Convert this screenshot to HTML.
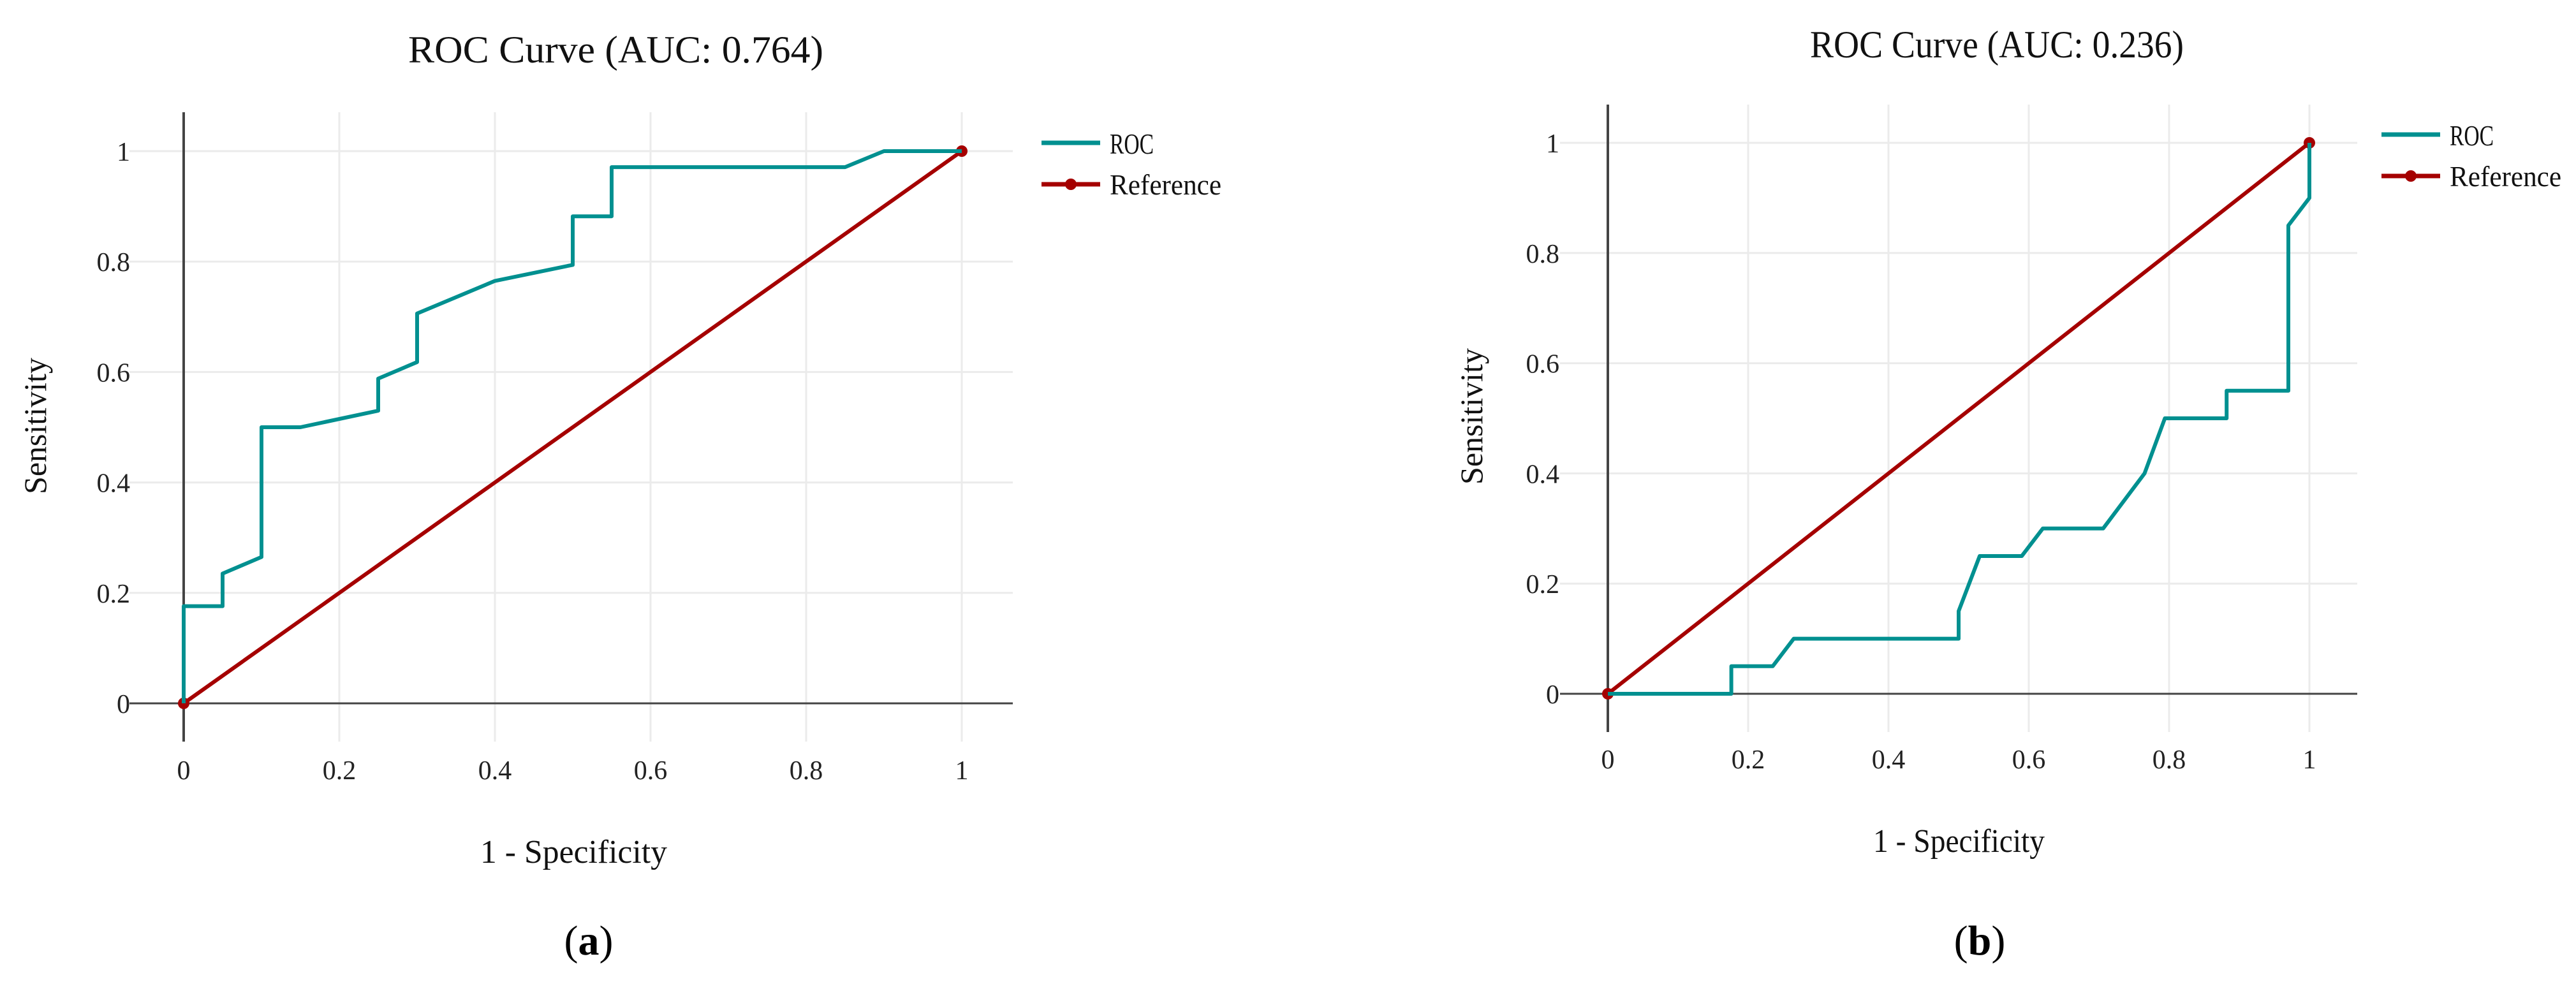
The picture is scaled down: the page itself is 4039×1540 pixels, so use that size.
<!DOCTYPE html>
<html><head><meta charset="utf-8"><style>
html,body{margin:0;padding:0;background:#fff;}
svg{display:block;font-family:"Liberation Serif",serif;}
</style></head><body>
<svg id="root" width="4039" height="1540" viewBox="0 0 4039 1540" xmlns="http://www.w3.org/2000/svg"></svg>
<script>
const ticks = [0, 0.2, 0.4, 0.6, 0.8, 1];
const tickLabels = ["0", "0.2", "0.4", "0.6", "0.8", "1"];
const rocAX = [0,0,0.05,0.05,0.1,0.1,0.15,0.25,0.25,0.3,0.3,0.4,0.5,0.5,0.55,0.55,0.85,0.9,1];
const rocAY = [0,0.176,0.176,0.235,0.265,0.5,0.5,0.53,0.588,0.618,0.706,0.765,0.794,0.882,0.882,0.971,0.971,1,1];
const rocBX = [0,0.176,0.176,0.235,0.265,0.5,0.5,0.53,0.59,0.62,0.706,0.765,0.794,0.882,0.882,0.97,0.97,1,1];
const rocBY = [0,0,0.05,0.05,0.1,0.1,0.15,0.25,0.25,0.3,0.3,0.4,0.5,0.5,0.55,0.55,0.85,0.9,1];
const refX = [0, 1];
const refY = [0, 1];

const NS = "http://www.w3.org/2000/svg";
const root = document.getElementById('root');
function mk(tag, attrs, parent){
  const e = document.createElementNS(NS, tag);
  for (const k in attrs) e.setAttribute(k, attrs[k]);
  (parent||root).appendChild(e);
  return e;
}
function drawChart(cfg){
  const g = mk('g', {});
  
  
  const sx = v => cfg.x0 + v*(cfg.x1-cfg.x0);
  const sy = v => cfg.y0 - v*(cfg.y0-cfg.y1);
  ticks.forEach((t,i)=>{
    if (t>0){
      const gv = mk('line',{x1:sx(t),x2:sx(t),y1:cfg.top,y2:cfg.gridBottom,stroke:'#ebebeb','stroke-width':3},g);
      
      
      const gh = mk('line',{x1:cfg.left,x2:cfg.right,y1:sy(t),y2:sy(t),stroke:'#ebebeb','stroke-width':3},g);
      
      
    }
    const xl = mk('text',{x:sx(t),y:cfg.xTickY,'font-size':42,'text-anchor':'middle',fill:'#222'},g);
    xl.textContent = tickLabels[i];
    
    
    const yl = mk('text',{x:cfg.yTickX,y:sy(t)+15,'font-size':42,'text-anchor':'end',fill:'#222'},g);
    yl.textContent = tickLabels[i];
    
    
  });
  const ax = mk('line',{x1:cfg.left,x2:cfg.right,y1:sy(0),y2:sy(0),stroke:'#444','stroke-width':3},g);
  
  
  const ay = mk('line',{x1:sx(0),x2:sx(0),y1:cfg.top,y2:cfg.gridBottom,stroke:'#444','stroke-width':4},g);
  
  
  const rp = refX.map((v,i)=>sx(v)+','+sy(refY[i])).join(' ');
  const ref = mk('polyline',{points:rp,fill:'none',stroke:'#a50000','stroke-width':6},g);
  
  
  refX.forEach((v,i)=>{
    const c = mk('circle',{cx:sx(v),cy:sy(refY[i]),r:9,fill:'#a50000'},g);
    
    
  });
  const pp = cfg.rx.map((v,i)=>sx(v)+','+sy(cfg.ry[i])).join(' ');
  const roc = mk('polyline',{points:pp,fill:'none',stroke:'#009090','stroke-width':6,'stroke-linejoin':'round'},g);
  
  
  const l1 = mk('line',{x1:cfg.legX,x2:cfg.legX+92,y1:cfg.legY,y2:cfg.legY,stroke:'#009090','stroke-width':7},g);
  
  
  const t1 = mk('text',{x:cfg.legX+107,y:cfg.legY+17,'font-size':46,fill:'#111',textLength:69,lengthAdjust:'spacingAndGlyphs'},g);
  t1.textContent='ROC';
  
  
  const l2 = mk('line',{x1:cfg.legX,x2:cfg.legX+92,y1:cfg.legY+65,y2:cfg.legY+65,stroke:'#a50000','stroke-width':7},g);
  
  
  const c2 = mk('circle',{cx:cfg.legX+46,cy:cfg.legY+65,r:9,fill:'#a50000'},g);
  
  
  const t2 = mk('text',{x:cfg.legX+107,y:cfg.legY+81,'font-size':46,fill:'#111',textLength:175,lengthAdjust:'spacingAndGlyphs'},g);
  t2.textContent='Reference';
  
  
  const tt = mk('text',{x:cfg.titleX,y:cfg.titleY,'font-size':60,fill:'#111',textLength:cfg.titleW,lengthAdjust:'spacingAndGlyphs'},g);
  tt.textContent = cfg.title;
  
  
  const xt = mk('text',{x:cfg.xtX,y:cfg.xtY,'font-size':52,fill:'#111',textLength:cfg.xtW,lengthAdjust:'spacingAndGlyphs'},g);
  xt.textContent = '1 - Specificity';
  
  
  const yt = mk('text',{x:0,y:0,'font-size':50,fill:'#111','text-anchor':'middle',transform:`translate(${cfg.ytX},${cfg.ytY}) rotate(-90)`},g);
  yt.textContent = 'Sensitivity';
  
  
  const pl = mk('text',{x:cfg.panelX,y:1497,'font-size':66,fill:'#000','text-anchor':'middle'},g);
  pl.innerHTML = '(<tspan font-weight="bold">'+cfg.panel+'</tspan>)';
  
  
}
drawChart({name:'chart-a',x0:288,x1:1508,y0:1103,y1:237,top:176,gridBottom:1163,left:203,right:1588,
  xTickY:1222,yTickX:204,rx:rocAX,ry:rocAY,legX:1633,legY:224,
  title:'ROC Curve (AUC: 0.764)',titleX:640,titleY:98,titleW:651,
  xtX:753,xtY:1353,xtW:293,ytX:72,ytY:668,panelX:923,panel:'a'});
drawChart({name:'chart-b',x0:2521,x1:3621,y0:1088,y1:224,top:164,gridBottom:1148,left:2446,right:3696,
  xTickY:1205,yTickX:2445,rx:rocBX,ry:rocBY,legX:3734,legY:211,
  title:'ROC Curve (AUC: 0.236)',titleX:2838,titleY:90,titleW:586,
  xtX:2937,xtY:1336,xtW:269,ytX:2324,ytY:653,panelX:3104,panel:'b'});
</script>
</body></html>
